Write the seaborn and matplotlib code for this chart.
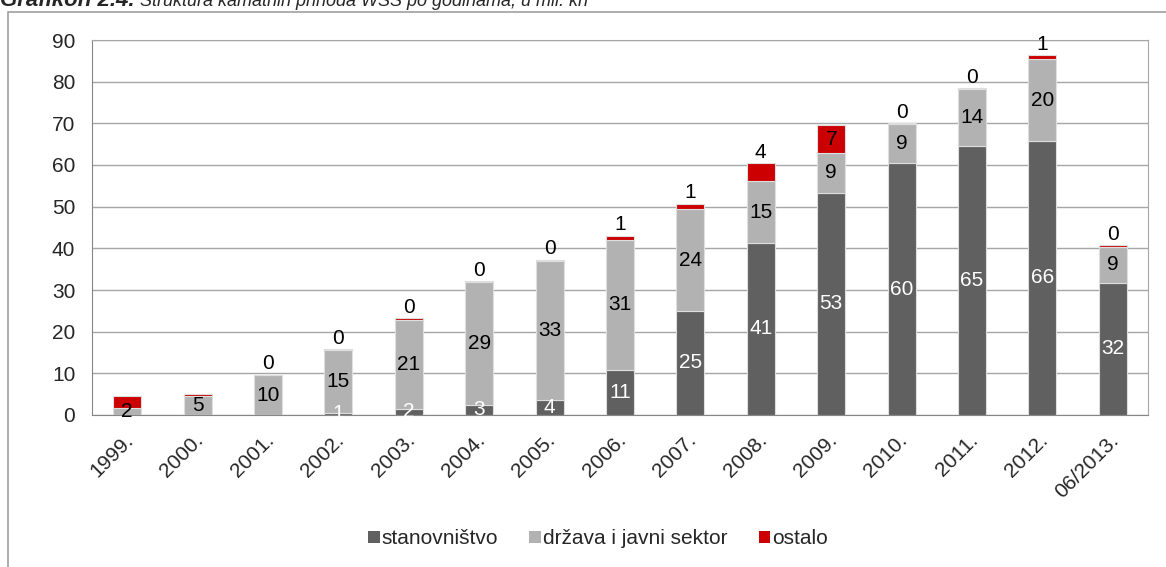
import matplotlib
matplotlib.use("Agg")
import matplotlib.pyplot as plt
import matplotlib.patches as mpatches
import matplotlib.transforms as mtransforms
import numpy as np
import pandas as pd
import seaborn as sns

# kamatni prihodi WSS, u mil. kn
godine = ['1999.', '2000.', '2001.', '2002.', '2003.', '2004.', '2005.', '2006.',
          '2007.', '2008.', '2009.', '2010.', '2011.', '2012.', '06/2013.']
stanovnistvo = [0, 0, 0, 0.6, 1.5, 2.5, 3.5, 10.7, 25.0, 41.3, 53.4, 60.4, 64.6, 65.8, 31.8]
drzava = [1.6, 4.6, 9.5, 15.0, 21.4, 29.4, 33.4, 31.4, 24.4, 14.8, 9.4, 9.4, 13.6, 19.6, 8.6]
ostalo = [2.9, 0.4, 0.2, 0.2, 0.3, 0.2, 0.4, 0.9, 1.3, 4.4, 6.8, 0.2, 0.3, 0.9, 0.4]
serije = ['stanovništvo', 'država i javni sektor', 'ostalo']
boje = ['#606060', '#b2b2b2', '#cc0000']

# labels not shown in the original / label drawn inside the segment
bez_oznake = ['1999.', '2000.']
oznaka_unutra = ['2009.']

df = pd.DataFrame({'godina': godine, 'stan': stanovnistvo, 'drz': drzava, 'ost': ostalo})


def lbl(v):
    return str(int(np.floor(v + 0.5)))


sns.set_style('white')
plt.rcParams['font.family'] = ['Liberation Sans', 'DejaVu Sans']

W, H = 1166, 567
fig = plt.figure(figsize=(W / 100, H / 100), dpi=100)
ax = fig.add_axes([92 / W, 1 - 415 / H, (1148 - 92) / W, (415 - 40) / H])

bottom = np.zeros(len(godine))
for col, c in zip(['stan', 'drz', 'ost'], boje):
    sns.barplot(data=df, x='godina', y=col, order=godine, color=c, saturation=1,
                width=0.4, bottom=bottom.copy(), errorbar=None, ax=ax,
                edgecolor='#dedede', linewidth=0.8, zorder=3)
    bottom = bottom + df[col].values

fs = 15
x = np.arange(len(godine))
for i, g in enumerate(godine):
    s, d, o = stanovnistvo[i], drzava[i], ostalo[i]
    if s > 0:
        ax.text(i, s / 2, lbl(s), ha='center', va='center', color='white', fontsize=fs, zorder=5)
    ax.text(i, s + d / 2, lbl(d), ha='center', va='center', color='black', fontsize=fs, zorder=5)
    if g in bez_oznake:
        continue
    if g in oznaka_unutra:
        ax.text(i, s + d + o / 2, lbl(o), ha='center', va='center', color='black', fontsize=fs, zorder=5)
    else:
        ax.annotate(lbl(o), (i, s + d + o), xytext=(0, 1), textcoords='offset points',
                    ha='center', va='bottom', color='black', fontsize=fs, zorder=5)

ax.set_xlim(-0.5, len(godine) - 0.5)
ax.set_ylim(0, 90)
ax.set_yticks(range(0, 91, 10))
ax.set_xlabel('')
ax.set_ylabel('')
ax.grid(axis='y', color='#a6a6a6', linewidth=1.0, zorder=0)
ax.set_axisbelow(True)
for sp in ['left', 'bottom']:
    ax.spines[sp].set_color('#868686')
for sp in ['top', 'right']:
    ax.spines[sp].set_color('#a6a6a6')
ax.tick_params(axis='y', length=5, color='#868686', pad=7, labelsize=fs)
ax.set_xticks(x)
ax.set_xticks(np.arange(-0.5, len(godine)), minor=True)
ax.tick_params(axis='x', which='major', length=0, pad=16, labelsize=fs)
ax.tick_params(axis='x', which='minor', length=6, color='#868686')
shift = mtransforms.ScaledTranslation(3 / 100, 0, fig.dpi_scale_trans)
for t in ax.get_xticklabels():
    t.set_rotation(45)
    t.set_ha('right')
    t.set_va('center')
    t.set_rotation_mode('anchor')
    t.set_transform(t.get_transform() + shift)

# legend
handles = [mpatches.Patch(facecolor=c, edgecolor='none', label=s) for s, c in zip(serije, boje)]
fig.legend(handles=handles, loc='center', bbox_to_anchor=(598 / W, 1 - 539 / H), ncol=3,
           frameon=False, fontsize=fs, handlelength=0.55, handleheight=0.55,
           handletextpad=0.1, columnspacing=1.5)

# outer chart frame (runs off the right and bottom edge)
fig.add_artist(mpatches.Rectangle((8 / W, -0.2), 1.2, 1.2 - 12 / H, transform=fig.transFigure,
                                  fill=False, edgecolor='#a0a0a0', linewidth=1.2))

# title, partly cut off at the top
fig.text(0.0, 1 - 6 / H, 'Grafikon 2.4.', fontsize=16, fontstyle='italic',
         fontweight='bold', va='baseline')
fig.text(140 / W, 1 - 6 / H, 'Struktura kamatnih prihoda WSS po godinama, u mil. kn',
         fontsize=13, fontstyle='italic', va='baseline')

fig.savefig('out.png', dpi=100)
